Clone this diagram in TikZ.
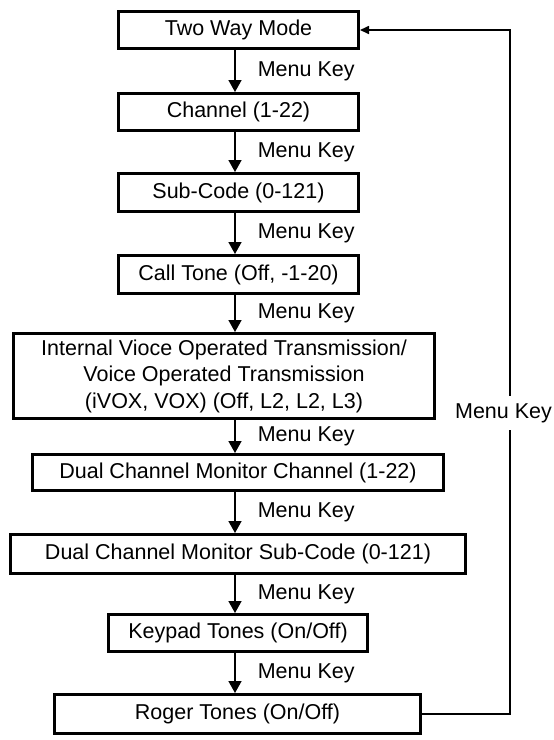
\documentclass[tikz,border=0pt]{standalone}
\usepackage{fontspec}
\setmainfont{Liberation Sans}
\usetikzlibrary{arrows.meta}

\begin{document}
\begin{tikzpicture}[
    x=1pt, y=-1pt,
    >={Triangle[length=12pt,width=13pt]},
    font=\fontsize{21.5}{26.5}\selectfont,
    box/.style={draw, line width=3pt, inner sep=0pt, align=center},
    flow/.style={->, line width=1.6pt},
    key/.style={anchor=west, inner sep=0pt, xshift=22pt}
]
    \useasboundingbox (0,0) rectangle (554,740);

    % Menu boxes
    \node[box, minimum width=240pt, minimum height=37pt] (twoway) at (238.5,30) {Two Way Mode};
    \node[box, minimum width=240pt, minimum height=37pt] (channel) at (238.5,112) {Channel (1-22)};
    \node[box, minimum width=240pt, minimum height=38pt] (subcode) at (238.5,192.5) {Sub-Code (0-121)};
    \node[box, minimum width=240pt, minimum height=38pt] (calltone) at (238.5,274.5) {Call Tone (Off, -1-20)};
    \node[box, minimum width=421pt, minimum height=85pt] (vox) at (224,376)
        {Internal Vioce Operated Transmission/\\Voice Operated Transmission\\(iVOX, VOX) (Off, L2, L2, L3)};
    \node[box, minimum width=411pt, minimum height=36pt] (dualch) at (238,472.5) {Dual Channel Monitor Channel (1-22)};
    \node[box, minimum width=455pt, minimum height=39pt] (dualsub) at (238,554) {Dual Channel Monitor Sub-Code (0-121)};
    \node[box, minimum width=259pt, minimum height=37pt] (keypad) at (238,633) {Keypad Tones (On/Off)};
    \node[box, minimum width=366pt, minimum height=39pt] (roger) at (237.5,714) {Roger Tones (On/Off)};

    % Down arrows
    \coordinate (spine) at (235,0);
    \draw[flow] (twoway.south -| spine) -- (channel.north -| spine) node[midway, key] {Menu Key};
    \draw[flow] (channel.south -| spine) -- (subcode.north -| spine) node[midway, key] {Menu Key};
    \draw[flow] (subcode.south -| spine) -- (calltone.north -| spine) node[midway, key] {Menu Key};
    \draw[flow] (calltone.south -| spine) -- (vox.north -| spine) node[midway, key] {Menu Key};
    \draw[flow] (vox.south -| spine) -- (dualch.north -| spine) node[midway, key] {Menu Key};
    \draw[flow] (dualch.south -| spine) -- (dualsub.north -| spine) node[midway, key] {Menu Key};
    \draw[flow] (dualsub.south -| spine) -- (keypad.north -| spine) node[midway, key] {Menu Key};
    \draw[flow] (keypad.south -| spine) -- (roger.north -| spine) node[midway, key] {Menu Key};

    % Back to the top
    \coordinate (back) at (510,0);
    \draw[line width=1.6pt, -{Triangle[length=9pt,width=8pt]}] (roger.east) -| (back |- twoway.east) -- (twoway.east);
    \node[fill=white, inner xsep=0pt, inner ysep=7pt] (loopkey) at (503.5,413) {Menu Key};
\end{tikzpicture}
\end{document}
